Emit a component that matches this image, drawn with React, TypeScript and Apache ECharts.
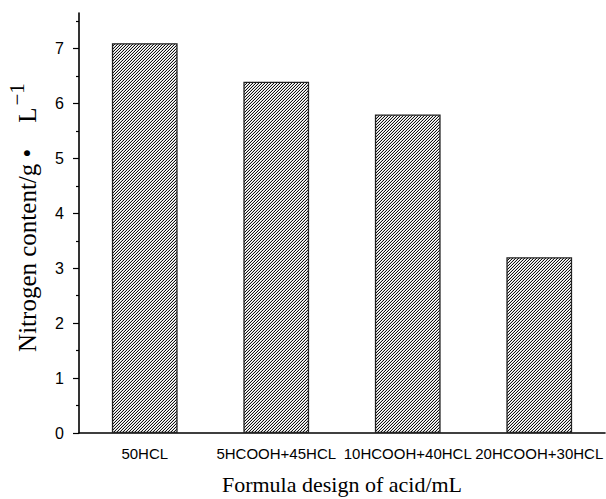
import React, { useEffect, useRef } from "react";
import * as echarts from "echarts";

const categories = ["50HCL", "5HCOOH+45HCL", "10HCOOH+40HCL", "20HCOOH+30HCL"];
const nitrogen = [7.1, 6.4, 5.8, 3.2];
const majorTicks = [0, 1, 2, 3, 4, 5, 6, 7];
const minorTicks = [0.5, 1.5, 2.5, 3.5, 4.5, 5.5, 6.5, 7.5];
const yMax = 7.65;

function makeHatch(): HTMLCanvasElement {
  const c = document.createElement("canvas");
  c.width = 3;
  c.height = 3;
  const ctx = c.getContext("2d")!;
  for (let x = 0; x < 3; x++) {
    for (let y = 0; y < 3; y++) {
      const k = (x + y) % 3;
      ctx.fillStyle = k === 2 ? "#111" : k === 1 ? "#d4d4d4" : "#fff";
      ctx.fillRect(x, y, 1, 1);
    }
  }
  return c;
}

export default function App() {
  const ref = useRef<HTMLDivElement>(null);
  useEffect(() => {
    const chart = echarts.init(ref.current!, null, { renderer: "svg" });
    const serif = "'Liberation Serif', 'Times New Roman', serif";
    const sans = "'Liberation Sans', Arial, sans-serif";
    const hatch = makeHatch();
    chart.setOption({
      animation: false,
      backgroundColor: "#fff",
      grid: { left: 79, right: 1, top: 13, bottom: 66, containLabel: false, outerBoundsMode: "none" },
      xAxis: [
        {
          type: "category",
          data: categories,
          position: "bottom",
          boundaryGap: true,
          axisLine: { lineStyle: { color: "#000", width: 1.6 } },
          axisTick: { alignWithLabel: true, length: 7, lineStyle: { color: "#000", width: 1.2 } },
          axisLabel: { color: "#000", fontFamily: sans, fontSize: 15, margin: 13, interval: 0 },
          name: "Formula design of acid/mL",
          nameLocation: "middle",
          nameGap: 40,
          nameTextStyle: { color: "#000", fontFamily: serif, fontSize: 22 },
        },
        {
          type: "category",
          data: categories,
          position: "bottom",
          boundaryGap: true,
          axisLine: { show: false },
          axisTick: { alignWithLabel: false, length: 3, lineStyle: { color: "#000", width: 1.2 } },
          axisLabel: { show: false },
        },
      ],
      yAxis: [
        {
          type: "value",
          position: "left",
          min: 0,
          max: yMax,
          interval: 1,
          splitLine: { show: false },
          axisLine: { show: true, lineStyle: { color: "#000", width: 1.6 } },
          axisTick: { show: true, length: 6, customValues: majorTicks, lineStyle: { color: "#000", width: 1.2 } },
          axisLabel: { color: "#000", fontFamily: sans, fontSize: 16, margin: 15, customValues: majorTicks },
          name: "{a|Nitrogen content/g •}{l|L}{s|−1}",
          nameLocation: "middle",
          nameGap: 30,
          nameTextStyle: {
            color: "#000",
            fontFamily: serif,
            fontSize: 25,
            padding: [0, 0, 0, 11],
            rich: {
              a: { fontFamily: serif, fontSize: 25, color: "#000" },
              l: { fontFamily: serif, fontSize: 25, color: "#000", padding: [0, 0, 0, 26] },
              s: { fontFamily: serif, fontSize: 21, color: "#000", padding: [0, 0, 22, 2] },
            },
          },
        },
        {
          type: "value",
          position: "left",
          min: 0,
          max: yMax,
          interval: 1,
          splitLine: { show: false },
          axisLine: { show: false },
          axisTick: { show: true, length: 3, customValues: minorTicks, lineStyle: { color: "#000", width: 1.2 } },
          axisLabel: { show: false },
        },
      ],
      series: [
        {
          type: "bar",
          data: nitrogen,
          xAxisIndex: 0,
          yAxisIndex: 0,
          barWidth: "50%",
          itemStyle: {
            color: { image: hatch, repeat: "repeat" },
            borderColor: "#222",
            borderWidth: 1.3,
          },
        },
      ],
    });
    return () => chart.dispose();
  }, []);
  return <div ref={ref} style={{ position: "absolute", left: 0, top: 0, width: 606, height: 499 }} />;
}
